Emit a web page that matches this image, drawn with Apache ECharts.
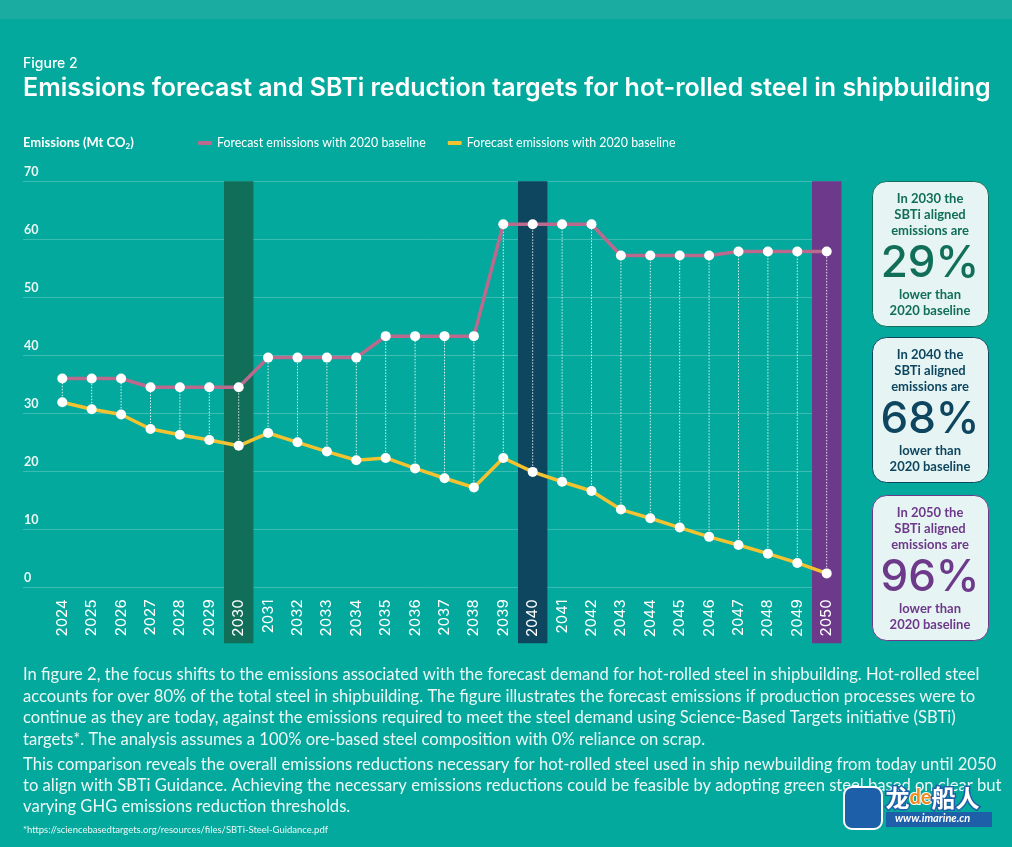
<!DOCTYPE html>
<html>
<head>
<meta charset="utf-8">
<script src="https://cdn.jsdelivr.net/npm/echarts@6/dist/echarts.min.js"></script>
<style>
html,body{margin:0;padding:0;background:#03a99d;}
#chart{width:1012px;height:847px;}
</style>
</head>
<body>
<div id="chart"></div>
<script>
// ---- data ----
const years = ['2024','2025','2026','2027','2028','2029','2030','2031','2032','2033','2034','2035','2036','2037','2038','2039','2040','2041','2042','2043','2044','2045','2046','2047','2048','2049','2050'];
const forecastEmissions = [36.0,36.0,36.0,34.5,34.5,34.5,34.5,39.6,39.6,39.6,39.6,43.3,43.3,43.3,43.3,62.6,62.6,62.6,62.6,57.2,57.2,57.2,57.2,57.9,57.9,57.9,57.9];
const sbtiEmissions = [31.9,30.7,29.8,27.3,26.3,25.4,24.4,26.6,25.0,23.4,21.9,22.3,20.5,18.8,17.2,22.3,19.9,18.2,16.6,13.4,11.9,10.3,8.7,7.3,5.8,4.2,2.4];
const seriesNames = ['Forecast emissions', 'SBTi aligned emissions'];
const legendLabels = ['Forecast emissions with 2020 baseline', 'Forecast emissions with 2020 baseline'];
const highlightYears = ['2030','2040','2050'];
const highlightPercents = ['29%','68%','96%'];
const yMin = 0, yMax = 70, yStep = 10;

const bandColors = ['#116e58','#0e4660','#6d398a'];
const pink = '#bb6a8e', yellow = '#f2c230';

const chart = echarts.init(document.getElementById('chart'));

const connectorData = years.map((y, i) => [i, sbtiEmissions[i], forecastEmissions[i]]);
const bandData = highlightYears.map(y => [y, yMax]);

const bodyText =
'In figure 2, the focus shifts to the emissions associated with the forecast demand for hot-rolled steel in shipbuilding. Hot-rolled steel\n' +
'accounts for over 80% of the total steel in shipbuilding. The figure illustrates the forecast emissions if production processes were to\n' +
'continue as they are today, against the emissions required to meet the steel demand using Science-Based Targets initiative (SBTi)\n' +
'targets*. The analysis assumes a 100% ore-based steel composition with 0% reliance on scrap.';
const bodyText2 =
'This comparison reveals the overall emissions reductions necessary for hot-rolled steel used in ship newbuilding from today until 2050\n' +
'to align with SBTi Guidance. Achieving the necessary emissions reductions could be feasible by adopting green steel based on clear but\n' +
'varying GHG emissions reduction thresholds.';

function panel(i, top) {
  const c = bandColors[i];
  const yr = highlightYears[i];
  return [
    {type:'rect', left:872, top:top, shape:{width:116, height:145, r:14}, style:{fill:'#e6f5f3', stroke:c, lineWidth:1}, z:10},
    {type:'text', x:930, y:top+10, style:{text:'In ' + yr + ' the\nSBTi aligned\nemissions are', fill:c, font:'bold 13px Lato', lineHeight:16, align:'center', verticalAlign:'top'}, z:11},
    {type:'text', x:930, y:top+83, style:{text:highlightPercents[i], fill:c, font:'500 44px Inter', align:'center', verticalAlign:'middle'}, z:11},
    {type:'text', x:930, y:top+106, style:{text:'lower than\n2020 baseline', fill:c, font:'bold 13px Lato', lineHeight:16, align:'center', verticalAlign:'top'}, z:11}
  ];
}

const option = {
  backgroundColor: '#03a99d',
  animation: false,
  graphic: [
    {type:'rect', left:0, top:0, shape:{width:1012, height:19}, style:{fill:'#1aaca0'}, z:0},
    {type:'text', left:23, top:57, style:{text:'Figure 2', fill:'#ffffff', font:'500 14px Inter'}},
    {type:'text', left:23, top:76, style:{text:'Emissions forecast and SBTi reduction targets for hot-rolled steel in shipbuilding', fill:'#ffffff', font:'600 25px Inter'}},
    {type:'text', left:23, top:136, style:{text:'{a|Emissions (Mt CO}{s|2}{a|)}', rich:{a:{fill:'#ffffff', font:'bold 13px Lato'}, s:{fill:'#ffffff', font:'bold 8px Lato', verticalAlign:'bottom', padding:[7,0,0,0]}}}},
    {type:'text', left:23, top:664, style:{text:bodyText, fill:'#eef8f6', font:'16.6px Lato', lineHeight:21.6}},
    {type:'text', left:23, top:754, style:{text:bodyText2, fill:'#eef8f6', font:'16.6px Lato', lineHeight:21.2}},
    {type:'text', left:23, top:825, style:{text:'*https://sciencebasedtargets.org/resources/files/SBTi-Steel-Guidance.pdf', fill:'#eef8f6', font:'9.5px Lato'}},
    ...panel(0, 181),
    ...panel(1, 337),
    ...panel(2, 495),
    // watermark
    {type:'rect', left:843, top:786, shape:{width:38, height:42, r:8}, style:{fill:'#1d5fa8', stroke:'#ffffff', lineWidth:2}, z:20},
    {type:'text', left:884, top:784, style:{text:'{a|龙}{b|de}{a|船人}', rich:{a:{fill:'#ffffff', font:'bold 24px "Noto Sans CJK SC"', stroke:'#1d5fa8', lineWidth:3}, b:{fill:'#f08a1c', font:'bold 20px Lato', stroke:'#ffffff', lineWidth:2}}}, z:20},
    {type:'rect', left:886, top:812, shape:{width:106, height:15}, style:{fill:'#1d5fa8'}, z:20},
    {type:'text', left:895, top:813, style:{text:'www.imarine.cn', fill:'#ffffff', font:'italic bold 11px Lato'}, z:21}
  ],
  legend: {
    left: 193, top: 132,
    data: [
      {name: seriesNames[0], itemStyle:{color:pink}},
      {name: seriesNames[1], itemStyle:{color:yellow}}
    ],
    icon: 'roundRect', itemWidth: 14, itemHeight: 4, itemGap: 22,
    formatter: n => legendLabels[seriesNames.indexOf(n)],
    textStyle: {color:'#ffffff', fontFamily:'Lato', fontSize:12.4}
  },
  grid: [
    {left:23, right:172, top:181.3, bottom:259.7},
    {left:47.6, right:170.6, top:181.3, bottom:259.7}
  ],
  xAxis: [
    {gridIndex:0, type:'value', show:false, min:0, max:1},
    {gridIndex:1, type:'category', data:years, boundaryGap:true, z:5,
     axisLine:{show:false}, axisTick:{show:false}, splitLine:{show:false},
     axisLabel:{rotate:90, color:'#ffffff', fontFamily:'Inter', fontSize:15, margin:12, interval:0}}
  ],
  yAxis: [
    {gridIndex:0, type:'value', min:yMin, max:yMax, interval:yStep,
     axisLine:{show:false}, axisTick:{show:false},
     splitLine:{lineStyle:{color:'rgba(255,255,255,0.22)', width:1}},
     axisLabel:{inside:true, margin:1, verticalAlign:'bottom', padding:[0,0,3,0], color:'#eaf7f4', fontFamily:'Lato', fontWeight:'bold', fontSize:12.5}},
    {gridIndex:1, type:'value', min:yMin, max:yMax, interval:yStep, show:false}
  ],
  series: [
    {
      type:'custom', xAxisIndex:1, yAxisIndex:1, z:1, silent:true,
      data: bandData,
      renderItem: (params, api) => {
        const top = api.coord([api.value(0), api.value(1)]);
        const bottom = api.coord([api.value(0), yMin]);
        const w = api.size([1, 0])[0];
        return {type:'rect', shape:{x:top[0]-w/2, y:top[1], width:w, height:bottom[1]-top[1]+56}, style:{fill:bandColors[params.dataIndex]}};
      }
    },
    {
      type:'custom', xAxisIndex:1, yAxisIndex:1, z:2, silent:true,
      data: connectorData,
      renderItem: (params, api) => {
        const p1 = api.coord([api.value(0), api.value(1)]);
        const p2 = api.coord([api.value(0), api.value(2)]);
        return {type:'line', shape:{x1:p1[0], y1:p1[1], x2:p2[0], y2:p2[1]}, style:{stroke:'rgba(255,255,255,0.85)', lineWidth:1, lineDash:[1.5,1.5]}};
      }
    },
    {
      name: seriesNames[0], type:'line', xAxisIndex:1, yAxisIndex:1, z:6,
      data: forecastEmissions, color: pink,
      lineStyle:{color:pink, width:3.5},
      symbol:'circle', symbolSize:10, itemStyle:{color:'#ffffff'}
    },
    {
      name: seriesNames[1], type:'line', xAxisIndex:1, yAxisIndex:1, z:6,
      data: sbtiEmissions, color: yellow,
      lineStyle:{color:yellow, width:3.5},
      symbol:'circle', symbolSize:10, itemStyle:{color:'#ffffff'}
    }
  ]
};
chart.setOption(option);
</script>
</body>
</html>
